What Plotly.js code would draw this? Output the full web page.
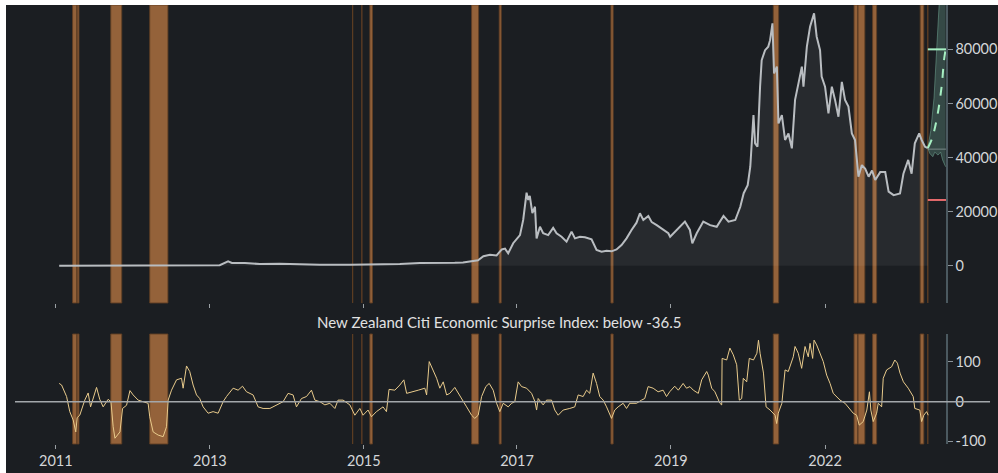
<!DOCTYPE html>
<html>
<head>
<meta charset="utf-8">
<script src="https://cdn.plot.ly/plotly-3.0.1.min.js"></script>
<style>
html,body{margin:0;padding:0;background:#ffffff;width:998px;height:473px;overflow:hidden;}
#chart{position:absolute;left:6px;top:5px;width:992px;height:468px;}
</style>
</head>
<body>
<div id="chart"></div>
<script>
// ---------- data ----------
const priceDates = ["2011-07-10","2011-11-15","2012-01-29","2012-05-15","2012-08-15","2013-01-05","2013-04-10","2013-07-05","2013-09-20","2013-11-01","2013-11-20","2014-01-24","2014-04-09","2014-07-18","2014-10-26","2015-02-03","2015-07-03","2015-11-30","2016-03-09","2016-06-17","2016-09-25","2016-12-09","2017-01-19","2017-03-05","2017-04-04","2017-05-01","2017-06-03","2017-07-06","2017-08-01","2017-08-17","2017-09-02","2017-09-27","2017-10-31","2017-11-16","2017-12-03","2017-12-11","2017-12-19","2018-01-01","2018-01-14","2018-01-22","2018-02-08","2018-02-24","2018-03-21","2018-04-15","2018-05-02","2018-05-27","2018-06-21","2018-07-16","2018-08-02","2018-08-27","2018-09-21","2018-10-24","2018-11-18","2018-12-13","2019-01-07","2019-02-01","2019-02-26","2019-03-23","2019-04-17","2019-05-12","2019-06-06","2019-06-23","2019-07-10","2019-08-04","2019-08-21","2019-09-15","2019-10-18","2019-11-12","2019-11-21","2019-12-24","2020-02-03","2020-02-28","2020-03-11","2020-04-02","2020-05-05","2020-06-08","2020-07-11","2020-08-14","2020-09-08","2020-10-12","2020-11-06","2020-11-23","2020-12-13","2020-12-26","2021-01-03","2021-01-11","2021-01-19","2021-01-31","2021-02-13","2021-02-21","2021-03-10","2021-03-26","2021-04-04","2021-04-16","2021-04-24","2021-05-08","2021-05-16","2021-06-02","2021-06-18","2021-07-05","2021-07-22","2021-08-07","2021-08-24","2021-09-10","2021-09-18","2021-10-05","2021-10-21","2021-11-10","2021-11-23","2021-12-10","2021-12-18","2022-01-04","2022-01-21","2022-02-07","2022-02-23","2022-03-12","2022-03-29","2022-04-14","2022-05-01","2022-05-18","2022-06-03","2022-06-20","2022-07-07","2022-07-24","2022-08-10","2022-08-27","2022-09-12","2022-10-07","2022-11-01","2022-11-18","2022-12-13","2023-01-14","2023-01-31","2023-02-24","2023-03-13","2023-03-29","2023-04-20","2023-05-02","2023-05-19","2023-06-02"];
const priceValues = [17,3,7,6,13,16,200,110,160,1600,1000,1000,600,700,450,300,380,550,600,1000,900,1100,1200,1700,2000,3500,4000,3800,6000,6300,4600,8300,11300,16900,27000,24300,25800,19400,21800,10100,14400,12000,11300,14000,12000,10700,8900,12600,10100,10700,10500,9750,5800,5200,5500,5300,6000,7650,10100,13200,15900,19400,16900,18400,16100,15000,13200,12000,10700,13200,16300,13200,8300,12000,16300,15000,14400,18400,16300,16900,21800,26800,29800,36600,45250,55700,45250,44000,66200,76000,79700,81000,83400,89600,71100,73600,52600,55700,46500,48900,43400,61300,67400,73600,66200,81000,88400,93300,84700,79700,69900,66200,56300,66200,61300,55100,68000,61300,58800,48900,46500,32900,37200,35800,32900,35200,31700,34600,34600,27400,26100,26700,34000,39100,34000,45250,48900,46500,44000,43500];

const cesiDates = ["2011-07-10","2011-07-22","2011-08-16","2011-09-01","2011-09-18","2011-10-01","2011-10-08","2011-10-21","2011-11-15","2011-12-02","2011-12-14","2012-01-13","2012-01-29","2012-02-15","2012-03-11","2012-03-25","2012-04-05","2012-04-14","2012-05-09","2012-05-22","2012-06-11","2012-06-28","2012-07-14","2012-08-08","2012-09-02","2012-09-27","2012-10-05","2012-10-22","2012-11-16","2012-12-11","2012-12-28","2013-01-05","2013-01-22","2013-02-16","2013-03-13","2013-03-21","2013-04-07","2013-04-23","2013-05-10","2013-05-27","2013-06-12","2013-06-29","2013-07-24","2013-08-18","2013-09-12","2013-10-07","2013-10-24","2013-11-26","2013-12-21","2014-01-12","2014-02-01","2014-03-06","2014-03-31","2014-04-25","2014-05-29","2014-07-01","2014-08-03","2014-08-28","2014-09-22","2014-10-09","2014-11-03","2014-11-28","2014-12-23","2015-01-09","2015-02-03","2015-02-28","2015-03-25","2015-04-19","2015-05-05","2015-05-30","2015-07-03","2015-07-28","2015-08-22","2015-09-07","2015-10-02","2015-10-19","2015-11-13","2015-12-16","2016-01-02","2016-01-15","2016-02-13","2016-03-09","2016-03-29","2016-04-12","2016-05-15","2016-06-09","2016-07-12","2016-07-21","2016-08-03","2016-08-23","2016-09-09","2016-09-25","2016-10-12","2016-10-29","2016-11-14","2016-12-09","2016-12-26","2017-01-17","2017-02-06","2017-03-03","2017-03-19","2017-04-05","2017-04-22","2017-05-13","2017-05-30","2017-06-19","2017-07-06","2017-07-22","2017-08-08","2017-09-02","2017-09-19","2017-10-05","2017-10-22","2017-11-08","2017-12-03","2017-12-28","2018-01-14","2018-01-22","2018-01-30","2018-02-24","2018-03-13","2018-04-07","2018-04-23","2018-05-10","2018-06-04","2018-07-07","2018-08-01","2018-08-18","2018-09-12","2018-09-29","2018-10-15","2018-11-01","2018-11-18","2018-12-04","2018-12-21","2019-01-07","2019-02-01","2019-02-17","2019-03-06","2019-03-31","2019-04-17","2019-05-03","2019-06-06","2019-07-01","2019-07-17","2019-08-03","2019-08-28","2019-09-22","2019-10-17","2019-11-03","2019-11-19","2019-12-14","2020-01-01","2020-01-25","2020-02-11","2020-02-28","2020-03-16","2020-04-10","2020-04-27","2020-05-22","2020-05-30","2020-06-16","2020-07-02","2020-07-27","2020-08-05","2020-08-07","2020-08-30","2020-09-15","2020-10-02","2020-10-19","2020-11-01","2020-11-13","2020-11-21","2020-12-08","2020-12-21","2021-01-11","2021-01-28","2021-02-05","2021-02-13","2021-03-02","2021-03-15","2021-04-04","2021-04-29","2021-05-07","2021-05-15","2021-06-02","2021-06-18","2021-07-04","2021-07-21","2021-07-29","2021-08-07","2021-08-23","2021-09-09","2021-09-26","2021-10-12","2021-10-21","2021-11-03","2021-11-10","2021-11-23","2021-12-10","2021-12-26","2022-01-12","2022-01-29","2022-02-14","2022-03-03","2022-03-20","2022-04-14","2022-05-09","2022-05-25","2022-06-11","2022-06-24","2022-07-14","2022-08-01","2022-08-14","2022-08-21","2022-09-02","2022-09-19","2022-09-27","2022-10-14","2022-10-22","2022-11-08","2022-12-03","2022-12-19","2023-01-01","2023-01-14","2023-01-31","2023-02-24","2023-03-21","2023-03-29","2023-04-23","2023-05-02","2023-05-13","2023-05-27","2023-06-04"];
const cesiValues = [46,42,13,-25,-46,-76,-40,-34,4,22,-13,36,6,-13,6,0,-63,-92,-76,-17,-9,28,17,4,0,-4,-38,-76,-84,-88,-63,4,29,55,59,34,90,76,42,17,8,-13,-29,-25,-29,0,13,34,29,39,25,17,-13,-17,-17,-8,0,21,17,-13,8,13,29,4,0,-8,-4,-17,4,4,-8,-34,-17,-34,-21,-38,-25,-13,-25,31,29,42,55,21,25,29,34,17,101,80,59,34,50,17,21,36,21,4,-13,-34,-42,-34,13,38,46,29,-4,-25,-4,-13,-4,0,50,38,34,21,0,-21,8,-8,4,4,-21,-34,-21,-17,-13,17,13,29,21,72,46,13,4,-13,-42,-21,-13,-4,-17,-4,-4,4,8,38,34,25,29,13,25,39,29,46,34,38,29,21,55,76,67,34,25,-4,-8,109,105,135,118,93,4,8,59,50,109,105,122,155,122,72,-13,-21,-34,-55,-29,-4,80,76,105,113,139,122,84,139,113,147,109,155,143,122,101,67,46,21,13,4,-4,-21,-29,-34,-59,-50,-21,25,-21,-50,-29,-4,-13,59,80,88,105,97,72,50,34,13,-17,-21,-50,-34,-25,-34];

// periods with the index below -36.5
const bandStarts = ["2011-09-15","2011-10-08","2012-03-24","2012-10-05","2015-07-17","2015-09-01","2015-10-11","2017-03-03","2017-07-19","2019-01-29","2021-04-20","2022-05-29","2022-06-18","2022-08-30","2023-04-25","2023-06-02"];
const bandEnds   = ["2011-10-06","2011-10-17","2012-05-18","2013-01-04","2015-07-17","2015-09-01","2015-10-24","2017-04-07","2017-07-29","2019-02-09","2021-05-17","2022-06-16","2022-07-22","2022-09-19","2023-05-13","2023-06-02"];

// projection
const projDates  = ["2023-06-02","2023-06-23","2023-07-16","2023-08-10","2023-08-22","2023-08-30"];
const projValues = [43500,47000,53900,66200,76000,80000];
const coneUpperDates  = ["2023-06-02","2023-06-17","2023-07-03","2023-07-15","2023-07-28","2023-08-30"];
const coneUpperValues = [43500,50000,62000,78000,100000,140000];
const coneLowerDates  = ["2023-06-02","2023-06-12","2023-06-27","2023-07-07","2023-07-23","2023-08-05","2023-08-15","2023-08-30"];
const coneLowerValues = [43500,41500,40300,42000,40900,42000,39100,36600];
const levelDates = ["2023-06-02","2023-09-01"];
const targetHigh = 80000, targetLow = 24300, currentLevel = 43100;

const tickDates  = ["2011-06-23","2013-08-02","2015-09-11","2017-10-16","2019-11-25","2022-01-04"];
const tickLabels = ["2011","2013","2015","2017","2019","2022"];
const priceTicks = [0,20000,40000,60000,80000];
const priceTickText = ["0","20000","40000","60000","80000"];
const cesiTicks = [-100,0,100];
const cesiTickText = ["-100","0","100"];
const threshold = -36.5;
const xRange = ["2010-12-01","2023-09-01"];

// ---------- traces ----------
const traces = [
  {x: priceDates, y: priceValues, type:'scatter', mode:'lines', xaxis:'x', yaxis:'y',
   line:{color:'#b9bdc1', width:2}, fill:'tozeroy', fillcolor:'rgba(255,255,255,0.055)', hoverinfo:'skip'},
  {x: coneLowerDates, y: coneLowerValues, type:'scatter', mode:'lines', xaxis:'x', yaxis:'y',
   line:{color:'rgba(120,175,155,0.5)', width:1}, hoverinfo:'skip'},
  {x: coneUpperDates, y: coneUpperValues, type:'scatter', mode:'lines', xaxis:'x', yaxis:'y',
   line:{color:'rgba(120,175,155,0.5)', width:1}, fill:'tonexty', fillcolor:'rgba(110,165,145,0.32)', hoverinfo:'skip'},
  {x: levelDates, y: [currentLevel,currentLevel], type:'scatter', mode:'lines', xaxis:'x', yaxis:'y',
   line:{color:'rgba(150,165,165,0.7)', width:1}, hoverinfo:'skip'},
  {x: levelDates, y: [targetHigh,targetHigh], type:'scatter', mode:'lines', xaxis:'x', yaxis:'y',
   line:{color:'#a6efc2', width:2}, hoverinfo:'skip'},
  {x: levelDates, y: [targetLow,targetLow], type:'scatter', mode:'lines', xaxis:'x', yaxis:'y',
   line:{color:'#e66a6c', width:2}, hoverinfo:'skip'},
  {x: projDates, y: projValues, type:'scatter', mode:'lines', xaxis:'x', yaxis:'y',
   line:{color:'#a6efc2', width:2, dash:'dash', shape:'spline'}, hoverinfo:'skip'},
  {x: cesiDates, y: cesiValues, type:'scatter', mode:'lines', xaxis:'x2', yaxis:'y2',
   line:{color:'#e9cb8c', width:1}, hoverinfo:'skip'}
];

// ---------- shapes ----------
const shapes = [];
bandStarts.forEach((s,i) => {
  [['x','y domain'],['x2','y2 domain']].forEach(([xr,yr]) => {
    shapes.push({type:'rect', xref:xr, yref:yr, x0:s, x1:bandEnds[i], y0:0, y1:1,
      fillcolor:'#94623a', line:{color:'rgba(95,62,35,0.9)', width:1}, layer:'below'});
  });
});
shapes.push({type:'line', xref:'paper', yref:'y2', x0:0, x1:1.0473, y0:0, y1:0,
  line:{color:'#a3a7ab', width:1.5}, layer:'above'});

const axisFont = {family:'Lato, "Open Sans", sans-serif', size:14.5, color:'#d4d6d8'};
const layout = {
  width: 992, height: 468,
  paper_bgcolor:'#1b1e22', plot_bgcolor:'#1b1e22',
  margin:{l:9, r:52, t:0, b:29, pad:0},
  showlegend:false,
  font: axisFont,
  xaxis:{type:'date', range:xRange, anchor:'y', domain:[0,1],
    tickvals:tickDates, ticktext:tickLabels, showticklabels:false,
    ticks:'outside', ticklen:4, tickwidth:1, tickcolor:'#9aa0a4',
    showgrid:false, zeroline:false, showline:false, fixedrange:true},
  xaxis2:{type:'date', range:xRange, anchor:'y2', domain:[0,1],
    tickvals:tickDates, ticktext:tickLabels, tickfont:axisFont,
    ticks:'outside', ticklen:4, tickwidth:1, tickcolor:'#9aa0a4',
    showgrid:false, zeroline:false, showline:false, fixedrange:true},
  yaxis:{domain:[0.3212,1], range:[-13800,96400], side:'right', anchor:'x',
    tickvals:priceTicks, ticktext:priceTickText, tickfont:axisFont,
    ticks:'outside', ticklen:5, tickwidth:1, tickcolor:'#8c949a',
    showline:true, linecolor:'#4b5960', linewidth:1.5,
    showgrid:false, zeroline:false, fixedrange:true},
  yaxis2:{domain:[0,0.2506], range:[-106.5,170.5], side:'right', anchor:'x2',
    tickvals:cesiTicks, ticktext:cesiTickText, tickfont:axisFont,
    ticks:'outside', ticklen:5, tickwidth:1, tickcolor:'#8c949a',
    showline:true, linecolor:'#4b5960', linewidth:1.5,
    showgrid:false, zeroline:false, fixedrange:true},
  shapes: shapes,
  annotations:[{text:'New Zealand Citi Economic Surprise Index: below ' + threshold,
    xref:'paper', yref:'paper', x:0.520, y:0.2779, xanchor:'center', yanchor:'middle',
    showarrow:false, font:{family:'Lato, "Open Sans", sans-serif', size:15, color:'#e2e2e2'}}]
};

Plotly.newPlot('chart', traces, layout, {displayModeBar:false, staticPlot:true});
</script>
</body>
</html>
